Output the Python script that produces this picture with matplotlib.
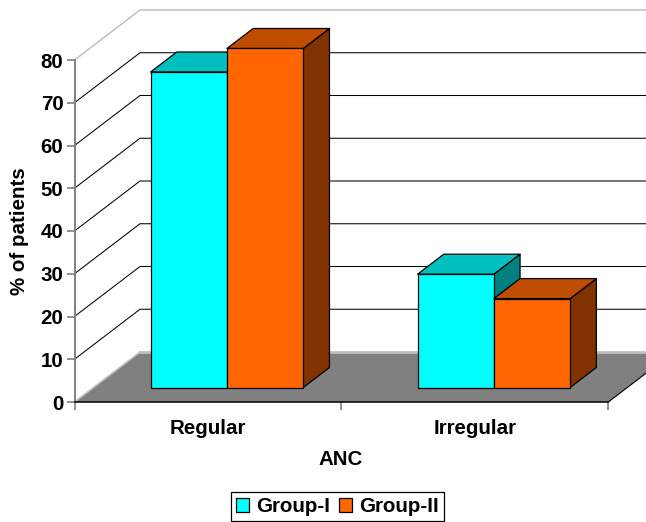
import matplotlib
matplotlib.use('Agg')
import matplotlib.pyplot as plt
from matplotlib.patches import Patch

plt.rcParams['font.family'] = ['Liberation Sans', 'DejaVu Sans']
plt.rcParams['font.weight'] = 'bold'
plt.rcParams['font.size'] = 14.8

categories = ['Regular', 'Irregular']
group1 = [73.8, 26.5]
group2 = [79.3, 20.8]
y_ticks = [0, 10, 20, 30, 40, 50, 60, 70, 80]

# 颜色 正面/顶面/侧面
colors1 = ('#00FFFF', '#00BFBF', '#008080')
colors2 = ('#FF6600', '#BF4D00', '#803300')

W, H = 646, 522
fig = plt.figure(figsize=(W / 100, H / 100), dpi=100)
ax = fig.add_axes([74.5 / W, (H - 402) / H, 533.8 / W, 342 / H])
ax.set_xlim(0, 2)
ax.set_ylim(0, 80)
ax.patch.set_visible(False)

# 伪3D: 深度方向的偏移(数据单位)
dx = 65.5 / 266.9
dy = 50 / 4.275
bar_w = 0.286
d0, d1 = 0.29, 0.69


def proj(x, y, d):
    return x + d * dx, y + d * dy


def quad(pts, **kw):
    xy = [proj(*p) for p in pts]
    ax.fill([p[0] for p in xy], [p[1] for p in xy], clip_on=False, **kw)


# 地板
quad([(0, 0, 0), (2, 0, 0), (2, 0, 1), (0, 0, 1)], fc='#808080', ec='none', zorder=1)
x, y = zip(proj(0, 0, 1), proj(2, 0, 1))
ax.plot(x, y, color='#C0C0C0', lw=2, clip_on=False, zorder=1.1)
x, y = zip(proj(0, 0, 0), proj(0, 0, 1))
ax.plot(x, y, color='#C0C0C0', lw=1.2, clip_on=False, zorder=1.1)
x, y = zip(proj(2, 0, 0), proj(2, 0, 1))
ax.plot(x, y, color='black', lw=0.8, clip_on=False, zorder=1.1)

# 网格线
for t in y_ticks[1:]:
    c = '#C0C0C0' if t == 80 else 'black'
    lw = 1.1 if t == 80 else 0.75
    x, y = zip(proj(0, t, 0), proj(0, t, 1), proj(2, t, 1))
    ax.plot(x, y, color=c, lw=lw, clip_on=False, zorder=1.2)


def draw_bar(x_left, v, cols, z):
    x_right = x_left + bar_w
    quad([(x_right, 0, d0), (x_right, 0, d1), (x_right, v, d1), (x_right, v, d0)],
         fc=cols[2], ec='black', lw=0.9, zorder=z, joinstyle='round')
    quad([(x_left, v, d0), (x_right, v, d0), (x_right, v, d1), (x_left, v, d1)],
         fc=cols[1], ec='black', lw=0.9, zorder=z, joinstyle='round')
    px, py = proj(x_left, 0, d0)
    ax.bar(px, v, bar_w, bottom=py, align='edge', color=cols[0], edgecolor='black',
           linewidth=0.9, clip_on=False, zorder=z + 0.1)


for i in range(len(categories)):
    draw_bar(i + 0.5 - bar_w, group1[i], colors1, 2 + i * 2)
    draw_bar(i + 0.5, group2[i], colors2, 3 + i * 2)

# 坐标轴
for s in ['top', 'right']:
    ax.spines[s].set_visible(False)
ax.spines['left'].set_color('#808080')
ax.spines['left'].set_linewidth(1.4)
ax.spines['left'].set_zorder(10)
ax.spines['bottom'].set_color('black')
ax.spines['bottom'].set_linewidth(1.1)
ax.spines['bottom'].set_zorder(10)
ax.set_yticks(y_ticks)
ax.tick_params(axis='y', length=5.5, width=1.2, color='#808080', pad=2.5, labelsize=14.8)
ax.set_xticks([0, 1, 2])
ax.set_xticklabels([])
ax.tick_params(axis='x', which='major', length=6, width=1.2, color='#808080')
ax.set_xticks([0.5, 1.5], minor=True)
ax.set_xticklabels(categories, minor=True, fontsize=14.8, fontweight='bold')
ax.tick_params(axis='x', which='minor', length=0, pad=12)
for lab in ax.get_yticklabels():
    lab.set_fontweight('bold')

fig.text(341 / W, 1 - 459.5 / H, 'ANC', ha='center', va='center', fontsize=14.8, fontweight='bold')
fig.text(20 / W, 1 - 231 / H, '% of patients', rotation=90, ha='center', va='center',
         fontsize=14.8, fontweight='bold')

handles = [Patch(fc=colors1[0], ec='black', lw=0.9, label='Group-I'),
           Patch(fc=colors2[0], ec='black', lw=0.9, label='Group-II')]
leg = fig.legend(handles=handles, loc='center', bbox_to_anchor=(337.5 / W, 1 - 506.5 / H),
                 ncol=2, fontsize=14.8, frameon=True, fancybox=False, framealpha=1,
                 edgecolor='black', handlelength=0.63, handleheight=0.65,
                 handletextpad=0.34, columnspacing=0.42, borderpad=0.26, borderaxespad=0)
leg.get_frame().set_linewidth(0.9)

fig.savefig('out.png', dpi=100)
